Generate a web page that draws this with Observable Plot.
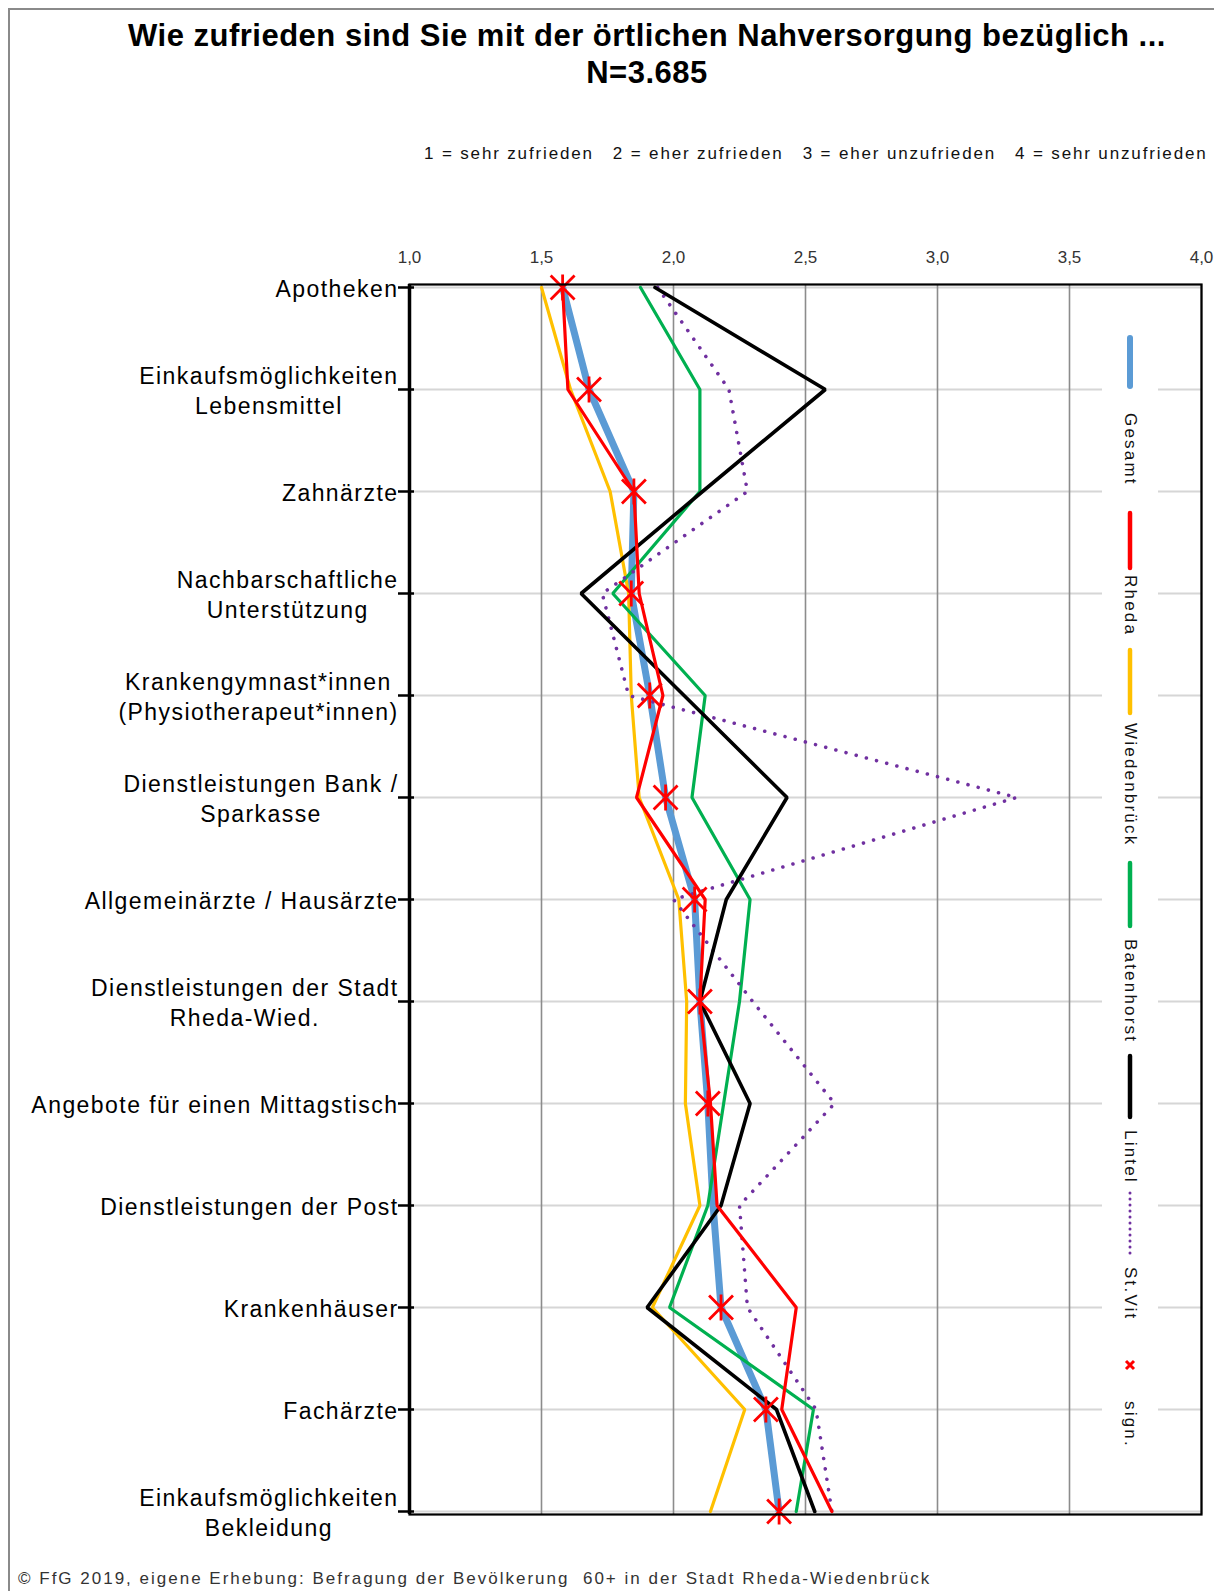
<!DOCTYPE html>
<html><head><meta charset="utf-8">
<script src="https://cdn.jsdelivr.net/npm/d3@7"></script>
<script src="https://cdn.jsdelivr.net/npm/@observablehq/plot@0.6"></script>
<style>
html,body{margin:0;padding:0;background:#fff;overflow:hidden;}
body{font-family:"Liberation Sans",Arial,sans-serif;color:#000;}
#page{position:relative;width:1214px;height:1591px;overflow:hidden;}
#border{position:absolute;left:8px;top:8px;width:1400px;height:1800px;border:2px solid #8a8a8a;box-sizing:border-box;pointer-events:none;}
#header{position:relative;height:190px;}
.title{position:absolute;left:0;width:1294px;text-align:center;font-weight:bold;font-size:31px;letter-spacing:0.5px;line-height:36px;white-space:nowrap;}
#scale{position:absolute;left:424px;top:144px;font-size:17px;letter-spacing:1.85px;line-height:20px;white-space:nowrap;color:#111;}
#scale span{margin-right:19px;}
#scale span:last-child{margin-right:0;}
#chart svg{display:block;}
#footer{margin-top:19px;padding-left:18px;font-size:17px;letter-spacing:2px;line-height:20px;color:#333;white-space:nowrap;}
#legend{position:absolute;left:1102px;top:325px;width:56px;height:1140px;background:#fff;}
.lg{position:absolute;}
.lgtext{writing-mode:vertical-rl;font-size:17px;letter-spacing:2.2px;line-height:20px;width:20px;left:18px;color:#111;white-space:nowrap;}
</style>
</head><body>
<div id="page">
  <div id="header">
    <div class="title" style="top:18px">Wie zufrieden sind Sie mit der örtlichen Nahversorgung bezüglich ...</div>
    <div class="title" style="top:55px">N=3.685</div>
    <div id="scale"></div>
  </div>
  <div id="chart"></div>
  <div id="footer">© FfG 2019, eigene Erhebung: Befragung der Bevölkerung&nbsp; 60+ in der Stadt Rheda-Wiedenbrück</div>
  <div id="legend"></div>
  <div id="border"></div>
</div>
<script>
// ---------------- data ----------------
const categories = [
  "Apotheken",
  "Einkaufsmöglichkeiten\nLebensmittel",
  "Zahnärzte",
  "Nachbarschaftliche\nUnterstützung",
  "Krankengymnast*innen\n(Physiotherapeut*innen)",
  "Dienstleistungen Bank /\nSparkasse",
  "Allgemeinärzte / Hausärzte",
  "Dienstleistungen der Stadt\nRheda-Wied.",
  "Angebote für einen Mittagstisch",
  "Dienstleistungen der Post",
  "Krankenhäuser",
  "Fachärzte",
  "Einkaufsmöglichkeiten\nBekleidung"
];
const gesamt       = [1.58, 1.68, 1.85, 1.84, 1.91, 1.97, 2.08, 2.10, 2.13, 2.15, 2.18, 2.35, 2.40];
const rheda        = [1.58, 1.60, 1.85, 1.87, 1.96, 1.86, 2.12, 2.10, 2.14, 2.165, 2.465, 2.41, 2.60];
const wiedenbrueck = [1.50, 1.61, 1.76, 1.83, 1.84, 1.87, 2.02, 2.05, 2.045, 2.10, 1.92, 2.27, 2.14];
const batenhorst   = [1.875, 2.10, 2.10, 1.77, 2.12, 2.07, 2.29, 2.25, 2.19, 2.13, 1.985, 2.53, 2.465];
const lintel       = [1.93, 2.575, 2.11, 1.65, 2.04, 2.43, 2.20, 2.10, 2.29, 2.18, 1.90, 2.39, 2.535];
const stvit        = [1.94, 2.21, 2.28, 1.73, 1.83, 3.30, 2.00, 2.30, 2.61, 2.25, 2.28, 2.54, 2.60];
const significant  = [true, true, true, true, true, true, true, true, true, false, true, true, true];

const seriesNames  = ["Gesamt", "Rheda", "Wiedenbrück", "Batenhorst", "Lintel", "St.Vit"];
const seriesColors = ["#5B9BD5", "#FF0000", "#FFC000", "#00B050", "#000000", "#7030A0"];
const xTicks       = [1, 1.5, 2, 2.5, 3, 3.5, 4];
const xTickLabels  = ["1,0", "1,5", "2,0", "2,5", "3,0", "3,5", "4,0"];
const scaleLabels  = ["1 = sehr zufrieden", "2 = eher zufrieden", "3 = eher unzufrieden", "4 = sehr unzufrieden"];
const signLabel    = "sign.";

// ---------------- build ----------------
const seriesValues = [gesamt, rheda, wiedenbrueck, batenhorst, lintel, stvit];
const rows = seriesNames.flatMap((s, i) => categories.map((c, j) => ({series: s, cat: c, value: seriesValues[i][j]})));
const signRows = categories.map((c, j) => ({cat: c, value: gesamt[j], sig: significant[j]})).filter(d => d.sig);
const colorOf = s => seriesColors[seriesNames.indexOf(s)];

const lineStyle = {
  "Gesamt":      {strokeWidth: 7, strokeLinejoin: "round", strokeLinecap: "butt"},
  "Wiedenbrück": {strokeWidth: 3.2, strokeLinejoin: "miter"},
  "Batenhorst":  {strokeWidth: 3.2, strokeLinejoin: "miter"},
  "St.Vit":      {strokeWidth: 3.6, strokeDasharray: "0.01 10.5", strokeLinecap: "round"},
  "Lintel":      {strokeWidth: 3.6, strokeLinejoin: "miter"},
  "Rheda":       {strokeWidth: 3.2, strokeLinejoin: "miter"}
};
const drawOrder = ["Gesamt", "Wiedenbrück", "Batenhorst", "St.Vit", "Lintel", "Rheda"];

const starSymbol = {
  draw(ctx, size) {
    const r = Math.sqrt(size / Math.PI);
    const a = r * 0.92;
    ctx.moveTo(-a, -a); ctx.lineTo(a, a);
    ctx.moveTo(a, -a); ctx.lineTo(-a, a);
    ctx.moveTo(0, -r); ctx.lineTo(0, r);
  }
};

const svg = Plot.plot({
  width: 1214,
  height: 1360,
  marginLeft: 409,
  marginRight: 13,
  marginTop: 94,
  marginBottom: 36,
  style: {fontFamily: '"Liberation Sans", Arial, sans-serif', background: "transparent", overflow: "visible"},
  x: {domain: [xTicks[0], xTicks[xTicks.length - 1]], axis: null},
  y: {type: "point", domain: categories, padding: 0, axis: null},
  marks: [
    Plot.ruleY(categories, {stroke: "#d6d6d6", strokeWidth: 2}),
    Plot.ruleX(xTicks, {stroke: "#8c8c8c", strokeWidth: 1.6}),
    ...drawOrder.map(s => Plot.line(rows.filter(d => d.series === s), {
      x: "value", y: "cat", stroke: colorOf(s), ...lineStyle[s]
    })),
    Plot.dot(signRows, {x: "value", y: "cat", symbol: starSymbol, r: 13, stroke: "#FF0000", fill: "none", strokeWidth: 2.8}),
    Plot.frame({stroke: "#000", strokeWidth: 2.2}),
    Plot.ruleX([xTicks[0]], {stroke: "#000", strokeWidth: 3.5}),
    Plot.axisX(xTicks, {anchor: "top", label: null, tickSize: 0, tickPadding: 22, fontSize: 17, fill: "#333",
      tickFormat: d => xTickLabels[xTicks.indexOf(d)]}),
    Plot.axisY({anchor: "left", label: null, tickSize: 11, tickPadding: 0, fontSize: 23, lineHeight: 1.3,
      stroke: "#000", strokeWidth: 2.5, fill: "#000", tickFormat: d => d}),
    Plot.axisY({anchor: "left", label: null, tickSize: -5, stroke: "#000", strokeWidth: 2.5, tickFormat: () => ""})
  ]
});
document.getElementById("chart").appendChild(svg);

// centre the lines of multi-line category labels, block stays right-aligned at the tick
const labelGroups = d3.select(svg).selectAll('g[aria-label="y-axis tick label"]');
labelGroups.style("letter-spacing", "1.45px");
labelGroups.selectAll("text").each(function () {
  if (this.querySelectorAll("tspan").length > 1) {
    const w = this.getBBox().width;
    const t = d3.select(this);
    t.attr("text-anchor", "middle");
    t.attr("transform", (t.attr("transform") || "") + ` translate(${-w / 2},0)`);
  }
});

// scale explanation
d3.select("#scale").selectAll("span").data(scaleLabels).join("span").text(d => d);

// legend (vertical, rotated text)
const legendLayout = [
  {top: 13, len: 48}, {top: 88, len: 76},
  {top: 188, len: 55}, {top: 250, len: 62},
  {top: 325, len: 63}, {top: 398, len: 126},
  {top: 538, len: 63}, {top: 614, len: 101},
  {top: 731, len: 61}, {top: 805, len: 50},
  {top: 868, len: 61}, {top: 942, len: 51},
  {top: 1035, len: 10}, {top: 1076, len: 51}
];
const legend = document.getElementById("legend");
const ns = "http://www.w3.org/2000/svg";
seriesNames.forEach((s, i) => {
  const sw = legendLayout[2 * i], tx = legendLayout[2 * i + 1];
  const g = document.createElementNS(ns, "svg");
  g.setAttribute("width", 12); g.setAttribute("height", sw.len + 6);
  g.setAttribute("class", "lg");
  g.style.left = "22px"; g.style.top = (sw.top - 3) + "px";
  const l = document.createElementNS(ns, "line");
  l.setAttribute("x1", 6); l.setAttribute("x2", 6);
  l.setAttribute("y1", 3); l.setAttribute("y2", sw.len + 3);
  l.setAttribute("stroke", colorOf(s));
  l.setAttribute("stroke-width", s === "Gesamt" ? 6 : 4.5);
  l.setAttribute("stroke-linecap", "round");
  if (s === "St.Vit") { l.setAttribute("stroke-width", 3); l.setAttribute("stroke-dasharray", "0.01 6"); }
  g.appendChild(l);
  legend.appendChild(g);
  const t = document.createElement("div");
  t.className = "lg lgtext"; t.style.top = tx.top + "px"; t.textContent = s;
  legend.appendChild(t);
});
{
  const sw = legendLayout[12], tx = legendLayout[13];
  const g = document.createElementNS(ns, "svg");
  g.setAttribute("width", 14); g.setAttribute("height", 14);
  g.setAttribute("class", "lg"); g.style.left = "21px"; g.style.top = (sw.top - 2) + "px";
  const p = document.createElementNS(ns, "path");
  p.setAttribute("d", "M3,3L11,11M11,3L3,11");
  p.setAttribute("stroke", "#FF0000"); p.setAttribute("stroke-width", 3);
  g.appendChild(p); legend.appendChild(g);
  const t = document.createElement("div");
  t.className = "lg lgtext"; t.style.top = tx.top + "px"; t.textContent = signLabel;
  legend.appendChild(t);
}
</script>
</body></html>
